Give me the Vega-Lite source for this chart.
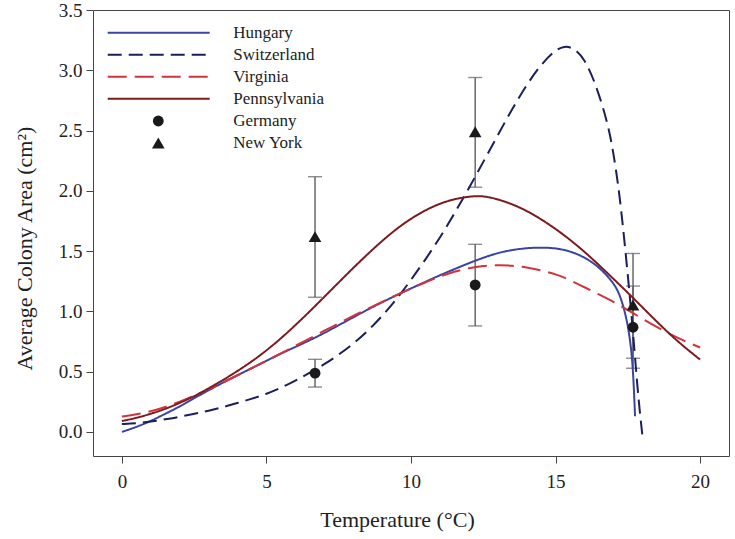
{
  "$schema": "https://vega.github.io/schema/vega-lite/v6.json",
  "width": 636,
  "height": 446,
  "autosize": {"type": "none"},
  "padding": {"left": 93, "top": 10, "right": 6, "bottom": 83},
  "background": "white",
  "config": {
    "font": "Liberation Serif",
    "view": {"stroke": "#444444", "strokeWidth": 1},
    "axis": {
      "domain": false,
      "grid": false,
      "tickColor": "#444444",
      "tickSize": 7,
      "tickWidth": 1,
      "labelFont": "Liberation Serif",
      "labelFontSize": 19,
      "labelColor": "#222222",
      "titleFont": "Liberation Serif",
      "titleFontSize": 22,
      "titleFontWeight": "normal",
      "titleColor": "#222222"
    },
    "legend": {
      "labelFont": "Liberation Serif",
      "labelFontSize": 17,
      "labelColor": "#222222"
    }
  },
  "datasets": {
    "curves": [
      {"series": "Hungary", "t": 0, "area": 0.0},
      {"series": "Hungary", "t": 0.5, "area": 0.04},
      {"series": "Hungary", "t": 1, "area": 0.09},
      {"series": "Hungary", "t": 1.5, "area": 0.15},
      {"series": "Hungary", "t": 2, "area": 0.21},
      {"series": "Hungary", "t": 2.5, "area": 0.28},
      {"series": "Hungary", "t": 3, "area": 0.345},
      {"series": "Hungary", "t": 3.5, "area": 0.41},
      {"series": "Hungary", "t": 4, "area": 0.47},
      {"series": "Hungary", "t": 4.5, "area": 0.53},
      {"series": "Hungary", "t": 5, "area": 0.59},
      {"series": "Hungary", "t": 5.5, "area": 0.65},
      {"series": "Hungary", "t": 6, "area": 0.705},
      {"series": "Hungary", "t": 6.5, "area": 0.76},
      {"series": "Hungary", "t": 7, "area": 0.82},
      {"series": "Hungary", "t": 7.5, "area": 0.885},
      {"series": "Hungary", "t": 8, "area": 0.95},
      {"series": "Hungary", "t": 8.5, "area": 1.015},
      {"series": "Hungary", "t": 9, "area": 1.075},
      {"series": "Hungary", "t": 9.5, "area": 1.135},
      {"series": "Hungary", "t": 10, "area": 1.19},
      {"series": "Hungary", "t": 10.5, "area": 1.245},
      {"series": "Hungary", "t": 11, "area": 1.3},
      {"series": "Hungary", "t": 11.5, "area": 1.35},
      {"series": "Hungary", "t": 12, "area": 1.4},
      {"series": "Hungary", "t": 12.5, "area": 1.445},
      {"series": "Hungary", "t": 13, "area": 1.485},
      {"series": "Hungary", "t": 13.5, "area": 1.51},
      {"series": "Hungary", "t": 14, "area": 1.525},
      {"series": "Hungary", "t": 14.5, "area": 1.53},
      {"series": "Hungary", "t": 15, "area": 1.525},
      {"series": "Hungary", "t": 15.5, "area": 1.5},
      {"series": "Hungary", "t": 16, "area": 1.45},
      {"series": "Hungary", "t": 16.5, "area": 1.37},
      {"series": "Hungary", "t": 17, "area": 1.24},
      {"series": "Hungary", "t": 17.2, "area": 1.15},
      {"series": "Hungary", "t": 17.35, "area": 1.04},
      {"series": "Hungary", "t": 17.5, "area": 0.89},
      {"series": "Hungary", "t": 17.6, "area": 0.72},
      {"series": "Hungary", "t": 17.65, "area": 0.6},
      {"series": "Hungary", "t": 17.7, "area": 0.42},
      {"series": "Hungary", "t": 17.75, "area": 0.13},
      {"series": "Switzerland", "t": 0, "area": 0.065},
      {"series": "Switzerland", "t": 0.5, "area": 0.07},
      {"series": "Switzerland", "t": 1, "area": 0.085},
      {"series": "Switzerland", "t": 1.5, "area": 0.105},
      {"series": "Switzerland", "t": 2, "area": 0.125},
      {"series": "Switzerland", "t": 2.5, "area": 0.15},
      {"series": "Switzerland", "t": 3, "area": 0.175},
      {"series": "Switzerland", "t": 3.5, "area": 0.205},
      {"series": "Switzerland", "t": 4, "area": 0.24},
      {"series": "Switzerland", "t": 4.5, "area": 0.275},
      {"series": "Switzerland", "t": 5, "area": 0.315},
      {"series": "Switzerland", "t": 5.5, "area": 0.365},
      {"series": "Switzerland", "t": 6, "area": 0.425},
      {"series": "Switzerland", "t": 6.5, "area": 0.49},
      {"series": "Switzerland", "t": 7, "area": 0.56},
      {"series": "Switzerland", "t": 7.5, "area": 0.64},
      {"series": "Switzerland", "t": 8, "area": 0.73},
      {"series": "Switzerland", "t": 8.5, "area": 0.835},
      {"series": "Switzerland", "t": 9, "area": 0.96},
      {"series": "Switzerland", "t": 9.5, "area": 1.1},
      {"series": "Switzerland", "t": 10, "area": 1.26},
      {"series": "Switzerland", "t": 10.5, "area": 1.43},
      {"series": "Switzerland", "t": 11, "area": 1.61},
      {"series": "Switzerland", "t": 11.5, "area": 1.81},
      {"series": "Switzerland", "t": 12, "area": 2.02},
      {"series": "Switzerland", "t": 12.5, "area": 2.24},
      {"series": "Switzerland", "t": 13, "area": 2.46},
      {"series": "Switzerland", "t": 13.5, "area": 2.68},
      {"series": "Switzerland", "t": 14, "area": 2.88},
      {"series": "Switzerland", "t": 14.5, "area": 3.05},
      {"series": "Switzerland", "t": 15, "area": 3.17},
      {"series": "Switzerland", "t": 15.3, "area": 3.2},
      {"series": "Switzerland", "t": 15.6, "area": 3.19},
      {"series": "Switzerland", "t": 16, "area": 3.1},
      {"series": "Switzerland", "t": 16.4, "area": 2.88},
      {"series": "Switzerland", "t": 16.8, "area": 2.57},
      {"series": "Switzerland", "t": 17, "area": 2.32},
      {"series": "Switzerland", "t": 17.2, "area": 2.0},
      {"series": "Switzerland", "t": 17.4, "area": 1.55},
      {"series": "Switzerland", "t": 17.6, "area": 1.05},
      {"series": "Switzerland", "t": 17.75, "area": 0.62},
      {"series": "Switzerland", "t": 17.87, "area": 0.265},
      {"series": "Switzerland", "t": 18, "area": -0.02},
      {"series": "Virginia", "t": 0, "area": 0.127},
      {"series": "Virginia", "t": 0.5, "area": 0.145},
      {"series": "Virginia", "t": 1, "area": 0.17},
      {"series": "Virginia", "t": 1.5, "area": 0.205},
      {"series": "Virginia", "t": 2, "area": 0.25},
      {"series": "Virginia", "t": 2.5, "area": 0.3},
      {"series": "Virginia", "t": 3, "area": 0.355},
      {"series": "Virginia", "t": 3.5, "area": 0.41},
      {"series": "Virginia", "t": 4, "area": 0.47},
      {"series": "Virginia", "t": 4.5, "area": 0.53},
      {"series": "Virginia", "t": 5, "area": 0.59},
      {"series": "Virginia", "t": 5.5, "area": 0.65},
      {"series": "Virginia", "t": 6, "area": 0.715},
      {"series": "Virginia", "t": 6.5, "area": 0.775},
      {"series": "Virginia", "t": 7, "area": 0.84},
      {"series": "Virginia", "t": 7.5, "area": 0.9},
      {"series": "Virginia", "t": 8, "area": 0.965},
      {"series": "Virginia", "t": 8.5, "area": 1.02},
      {"series": "Virginia", "t": 9, "area": 1.08},
      {"series": "Virginia", "t": 9.5, "area": 1.135},
      {"series": "Virginia", "t": 10, "area": 1.19},
      {"series": "Virginia", "t": 10.5, "area": 1.24},
      {"series": "Virginia", "t": 11, "area": 1.29},
      {"series": "Virginia", "t": 11.5, "area": 1.33},
      {"series": "Virginia", "t": 12, "area": 1.36},
      {"series": "Virginia", "t": 12.5, "area": 1.378},
      {"series": "Virginia", "t": 13, "area": 1.385},
      {"series": "Virginia", "t": 13.5, "area": 1.38},
      {"series": "Virginia", "t": 14, "area": 1.365},
      {"series": "Virginia", "t": 14.5, "area": 1.34},
      {"series": "Virginia", "t": 15, "area": 1.31},
      {"series": "Virginia", "t": 15.5, "area": 1.26},
      {"series": "Virginia", "t": 16, "area": 1.2},
      {"series": "Virginia", "t": 16.5, "area": 1.14},
      {"series": "Virginia", "t": 17, "area": 1.08},
      {"series": "Virginia", "t": 17.5, "area": 1.01},
      {"series": "Virginia", "t": 18, "area": 0.94},
      {"series": "Virginia", "t": 18.5, "area": 0.87},
      {"series": "Virginia", "t": 19, "area": 0.805},
      {"series": "Virginia", "t": 19.5, "area": 0.75},
      {"series": "Virginia", "t": 20, "area": 0.7},
      {"series": "Pennsylvania", "t": 0, "area": 0.09},
      {"series": "Pennsylvania", "t": 0.5, "area": 0.115},
      {"series": "Pennsylvania", "t": 1, "area": 0.15},
      {"series": "Pennsylvania", "t": 1.5, "area": 0.19},
      {"series": "Pennsylvania", "t": 2, "area": 0.24},
      {"series": "Pennsylvania", "t": 2.5, "area": 0.295},
      {"series": "Pennsylvania", "t": 3, "area": 0.36},
      {"series": "Pennsylvania", "t": 3.5, "area": 0.43},
      {"series": "Pennsylvania", "t": 4, "area": 0.505},
      {"series": "Pennsylvania", "t": 4.5, "area": 0.585},
      {"series": "Pennsylvania", "t": 5, "area": 0.675},
      {"series": "Pennsylvania", "t": 5.5, "area": 0.775},
      {"series": "Pennsylvania", "t": 6, "area": 0.885},
      {"series": "Pennsylvania", "t": 6.5, "area": 1.0},
      {"series": "Pennsylvania", "t": 7, "area": 1.12},
      {"series": "Pennsylvania", "t": 7.5, "area": 1.24},
      {"series": "Pennsylvania", "t": 8, "area": 1.36},
      {"series": "Pennsylvania", "t": 8.5, "area": 1.475},
      {"series": "Pennsylvania", "t": 9, "area": 1.585},
      {"series": "Pennsylvania", "t": 9.5, "area": 1.685},
      {"series": "Pennsylvania", "t": 10, "area": 1.77},
      {"series": "Pennsylvania", "t": 10.5, "area": 1.84},
      {"series": "Pennsylvania", "t": 11, "area": 1.895},
      {"series": "Pennsylvania", "t": 11.5, "area": 1.932},
      {"series": "Pennsylvania", "t": 12, "area": 1.952},
      {"series": "Pennsylvania", "t": 12.3, "area": 1.957},
      {"series": "Pennsylvania", "t": 12.6, "area": 1.953},
      {"series": "Pennsylvania", "t": 13, "area": 1.93},
      {"series": "Pennsylvania", "t": 13.5, "area": 1.89},
      {"series": "Pennsylvania", "t": 14, "area": 1.835},
      {"series": "Pennsylvania", "t": 14.5, "area": 1.765},
      {"series": "Pennsylvania", "t": 15, "area": 1.685},
      {"series": "Pennsylvania", "t": 15.5, "area": 1.595},
      {"series": "Pennsylvania", "t": 16, "area": 1.495},
      {"series": "Pennsylvania", "t": 16.5, "area": 1.385},
      {"series": "Pennsylvania", "t": 17, "area": 1.27},
      {"series": "Pennsylvania", "t": 17.5, "area": 1.155},
      {"series": "Pennsylvania", "t": 18, "area": 1.035},
      {"series": "Pennsylvania", "t": 18.5, "area": 0.915},
      {"series": "Pennsylvania", "t": 19, "area": 0.8},
      {"series": "Pennsylvania", "t": 19.5, "area": 0.695},
      {"series": "Pennsylvania", "t": 20, "area": 0.6}
    ],
    "obs": [
      {"site": "Germany", "t": 6.68, "area": 0.487, "lo": 0.372, "hi": 0.602},
      {"site": "Germany", "t": 12.22, "area": 1.219, "lo": 0.879, "hi": 1.556},
      {"site": "Germany", "t": 17.68, "area": 0.868, "lo": 0.528, "hi": 1.21},
      {"site": "New York", "t": 6.68, "area": 1.62, "lo": 1.117, "hi": 2.117},
      {"site": "New York", "t": 12.22, "area": 2.49, "lo": 2.03, "hi": 2.94},
      {"site": "New York", "t": 17.68, "area": 1.053, "lo": 0.611, "hi": 1.48}
    ]
  },
  "encoding": {
    "x": {
      "field": "t",
      "type": "quantitative",
      "scale": {"domain": [-1, 21], "nice": false, "zero": false},
      "axis": {
        "title": "Temperature (°C)",
        "values": [0, 5, 10, 15, 20],
        "labelPadding": 9,
        "titleX": 304,
        "titleY": 53,
        "titleBaseline": "top"
      }
    }
  },
  "layer": [
    {
      "data": {"name": "obs"},
      "mark": {"type": "rule", "color": "#5e5e5e", "strokeWidth": 1.4},
      "encoding": {
        "y": {"field": "lo", "type": "quantitative"},
        "y2": {"field": "hi"}
      }
    },
    {
      "data": {"name": "obs"},
      "mark": {"type": "tick", "orient": "horizontal", "size": 14, "thickness": 1.4, "color": "#5e5e5e"},
      "encoding": {
        "y": {"field": "lo", "type": "quantitative"}
      }
    },
    {
      "data": {"name": "obs"},
      "mark": {"type": "tick", "orient": "horizontal", "size": 14, "thickness": 1.4, "color": "#5e5e5e"},
      "encoding": {
        "y": {"field": "hi", "type": "quantitative"}
      }
    },
    {
      "data": {"name": "curves"},
      "mark": {"type": "line", "strokeWidth": 2, "interpolate": "basis"},
      "encoding": {
        "y": {
          "field": "area",
          "type": "quantitative",
          "scale": {"domain": [-0.2, 3.5], "nice": false, "zero": false},
          "axis": {
            "title": "Average Colony Area (cm²)",
            "values": [0, 0.5, 1, 1.5, 2, 2.5, 3, 3.5],
            "format": ".1f",
            "labelPadding": 4,
            "titleX": -62,
            "titleY": 238,
            "titleBaseline": "alphabetic"
          }
        },
        "color": {
          "field": "series",
          "type": "nominal",
          "scale": {
            "domain": ["Hungary", "Switzerland", "Virginia", "Pennsylvania"],
            "range": ["#3b44a3", "#1b1f5c", "#d3333b", "#7c1a1e"]
          },
          "legend": {
            "title": null,
            "orient": "none",
            "direction": "vertical",
            "legendX": 13.7,
            "legendY": 11.7,
            "padding": 0,
            "symbolType": "stroke",
            "symbolSize": 10404,
            "symbolStrokeWidth": 2,
            "clipHeight": 22,
            "rowPadding": 0,
            "labelOffset": 22.6
          }
        },
        "strokeDash": {
          "field": "series",
          "type": "nominal",
          "scale": {
            "domain": ["Hungary", "Switzerland", "Virginia", "Pennsylvania"],
            "range": [[1, 0], [14, 7], [19, 8], [1, 0]]
          },
          "legend": {
            "title": null,
            "orient": "none",
            "direction": "vertical",
            "legendX": 13.7,
            "legendY": 11.7,
            "padding": 0,
            "symbolType": "stroke",
            "symbolSize": 10404,
            "symbolStrokeWidth": 2,
            "clipHeight": 22,
            "rowPadding": 0,
            "labelOffset": 22.6
          }
        }
      }
    },
    {
      "data": {"name": "obs"},
      "mark": {"type": "point", "filled": true, "opacity": 1, "color": "#1a1a1a"},
      "encoding": {
        "y": {"field": "area", "type": "quantitative"},
        "size": {
          "field": "site",
          "type": "nominal",
          "scale": {"domain": ["Germany", "New York"], "range": [118, 160]},
          "legend": {
            "title": null,
            "orient": "none",
            "direction": "vertical",
            "legendX": 56.8,
            "legendY": 100,
            "padding": 0,
            "symbolFillColor": "#1a1a1a",
            "symbolStrokeColor": "#1a1a1a",
            "clipHeight": 22,
            "rowPadding": 0,
            "labelOffset": 66.5
          }
        },
        "shape": {
          "field": "site",
          "type": "nominal",
          "scale": {"domain": ["Germany", "New York"], "range": ["circle", "triangle-up"]},
          "legend": {
            "title": null,
            "orient": "none",
            "direction": "vertical",
            "legendX": 56.8,
            "legendY": 100,
            "padding": 0,
            "symbolFillColor": "#1a1a1a",
            "symbolStrokeColor": "#1a1a1a",
            "clipHeight": 22,
            "rowPadding": 0,
            "labelOffset": 66.5
          }
        }
      }
    }
  ]
}
